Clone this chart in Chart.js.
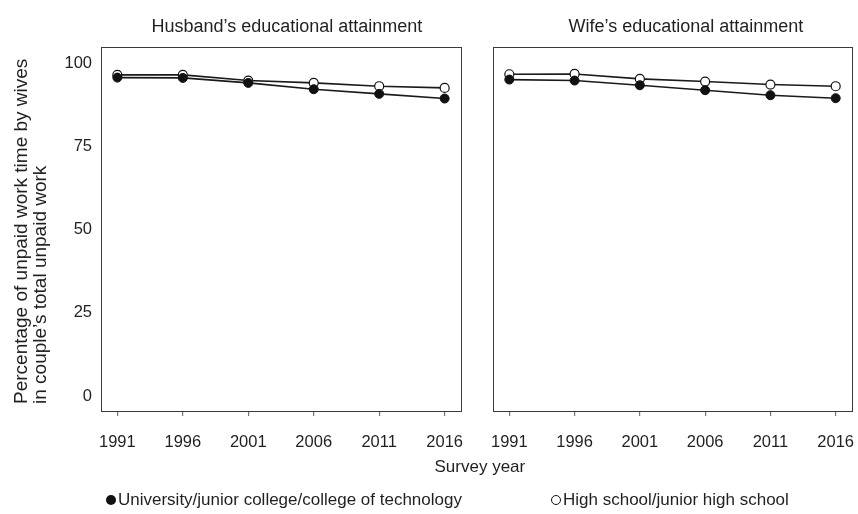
<!DOCTYPE html>
<html>
<head>
<meta charset="utf-8">
<script src="https://cdn.jsdelivr.net/npm/chart.js@4.4.1/dist/chart.umd.min.js"></script>
<style>
  html, body { margin: 0; padding: 0; background: #fff; }
  body { width: 858px; height: 514px; position: relative; overflow: hidden;
         font-family: "Liberation Sans", Arial, sans-serif; color: #231f20; }
  canvas { position: absolute; top: 0; }
  .t { position: absolute; white-space: nowrap; font-size: 17px; line-height: 20px; }
  .ytitle { position: absolute; left: 0; top: 0; transform-origin: 0 0; white-space: nowrap;
            font-size: 19px; line-height: 19px; }
  .dot { position: absolute; top: 5px; width: 10px; height: 10px; border-radius: 50%; box-sizing: border-box; }
</style>
</head>
<body>
<canvas id="left" width="470" height="514" style="left:0;width:470px;height:514px"></canvas>
<canvas id="right" width="388" height="514" style="left:470px;width:388px;height:514px"></canvas>

<div class="t" id="titleL" style="top:16px;font-size:18px;">Husband’s educational attainment</div>
<div class="t" id="titleR" style="top:16px;font-size:18px;">Wife’s educational attainment</div>
<div class="ytitle" style="transform: translate(11px, 404px) rotate(-90deg);">Percentage of unpaid work time by wives<br>in couple’s total unpaid work</div>
<div class="t" id="xtitle" style="top:457px;">Survey year</div>
<div class="t" style="top:490px; left:118px;"><span class="dot" style="left:-12px;background:#111;"></span>University/junior college/college of technology</div>
<div class="t" style="top:490px; left:563px;"><span class="dot" style="left:-12px;background:#fff;border:1px solid #111;"></span>High school/junior high school</div>

<script>
// ---- data ----
const years = [1991, 1996, 2001, 2006, 2011, 2016];
const yTicks = [0, 25, 50, 75, 100];
const seriesNames = ["University/junior college/college of technology", "High school/junior high school"];
const husbandUniversity = [95.8, 95.7, 94.2, 92.3, 90.9, 89.5];
const husbandHighSchool = [96.6, 96.6, 94.9, 94.2, 93.2, 92.7];
const wifeUniversity    = [95.2, 94.9, 93.5, 92.0, 90.5, 89.6];
const wifeHighSchool    = [96.8, 96.9, 95.4, 94.6, 93.7, 93.2];

// ---- helpers ----
const FONT = '"Liberation Sans", Arial, sans-serif';
function toXY(vals) { return years.map((y, i) => ({ x: y, y: vals[i] })); }

const boxPlugin = {
  id: 'box',
  afterDraw(chart) {
    const a = chart.chartArea, ctx = chart.ctx;
    ctx.save();
    ctx.strokeStyle = '#3a3a3a';
    ctx.lineWidth = 1;
    ctx.strokeRect(Math.round(a.left) + 0.5, Math.round(a.top) + 0.5,
                   Math.round(a.right - a.left), Math.round(a.bottom - a.top));
    ctx.restore();
  }
};

function makeChart(id, uni, hs, showY, yWidth, padRight) {
  return new Chart(document.getElementById(id), {
    type: 'line',
    data: {
      datasets: [
        { label: seriesNames[0], data: toXY(uni), borderColor: '#1a1a1a', borderWidth: 1.6,
          backgroundColor: '#111', pointBackgroundColor: '#111', pointBorderColor: '#111',
          pointBorderWidth: 1, pointRadius: 4.5, tension: 0 },
        { label: seriesNames[1], data: toXY(hs), borderColor: '#1a1a1a', borderWidth: 1.6,
          backgroundColor: '#fff', pointBackgroundColor: '#fff', pointBorderColor: '#111',
          pointBorderWidth: 1.2, pointRadius: 4.5, tension: 0 }
      ]
    },
    options: {
      responsive: false,
      animation: false,
      devicePixelRatio: 1,
      layout: { padding: { top: 47, right: padRight, bottom: 0, left: 0 } },
      plugins: { legend: { display: false }, tooltip: { enabled: false }, title: { display: false } },
      scales: {
        x: {
          type: 'linear', min: 1989.75, max: 2017.25,
          afterBuildTicks: s => { s.ticks = years.map(v => ({ value: v })); },
          afterFit: s => { s.height = 103; s.paddingLeft = 0; s.paddingRight = 0; },
          border: { display: false },
          grid: { drawOnChartArea: false, drawTicks: true, tickLength: 5, color: '#777', lineWidth: 1.2 },
          ticks: { font: { family: FONT, size: 16.5 }, color: '#231f20', padding: 17, maxRotation: 0,
                   callback: v => String(v) }
        },
        y: {
          min: -4.5, max: 105,
          afterBuildTicks: s => { s.ticks = yTicks.map(v => ({ value: v })); },
          afterFit: s => { s.width = yWidth; s.paddingTop = 0; s.paddingBottom = 0; },
          border: { display: false },
          grid: { display: false, drawTicks: false },
          ticks: { display: showY, font: { family: FONT, size: 16.5 }, color: '#231f20', padding: 9 }
        }
      }
    },
    plugins: [boxPlugin]
  });
}

const cL = makeChart('left', husbandUniversity, husbandHighSchool, true, 101, 9);
const cR = makeChart('right', wifeUniversity, wifeHighSchool, false, 23, 6);

// center titles
function centerOver(el, cx) { el.style.left = (cx - el.offsetWidth / 2) + 'px'; }
centerOver(document.getElementById('titleL'), 287);
centerOver(document.getElementById('titleR'), 686);
centerOver(document.getElementById('xtitle'), 480);
</script>
</body>
</html>
